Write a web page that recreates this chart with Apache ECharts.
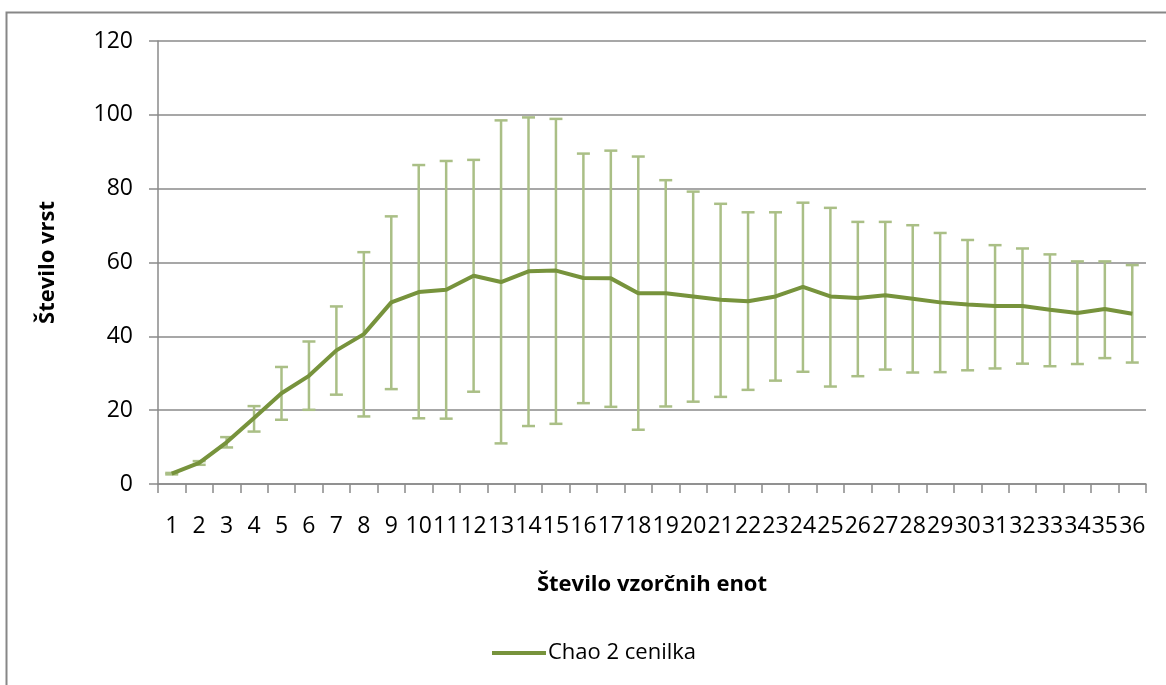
<!DOCTYPE html>
<html>
<head>
<meta charset="utf-8">
<script src="https://cdn.jsdelivr.net/npm/echarts@6/dist/echarts.min.js"></script>
<style>
  html, body { margin: 0; padding: 0; background: #fff; }
  #chart { width: 1166px; height: 685px; }
</style>
</head>
<body>
<div id="chart"></div>
<script>
// Number of sampling units (x categories)
const categories = ['1','2','3','4','5','6','7','8','9','10','11','12','13','14','15','16','17','18',
  '19','20','21','22','23','24','25','26','27','28','29','30','31','32','33','34','35','36'];

// Chao 2 estimator: mean number of species
const chaoMean = [2.8, 5.7, 11.3, 17.9, 24.6, 29.3, 36.2, 40.6, 49.2, 52.0, 52.6, 56.4,
  54.7, 57.6, 57.8, 55.8, 55.7, 51.7, 51.7, 50.8, 49.9, 49.5, 50.8, 53.4,
  50.8, 50.4, 51.1, 50.2, 49.2, 48.6, 48.2, 48.2, 47.2, 46.3, 47.4, 46.1];

// Lower and upper ends of the error bars
const chaoLow = [2.6, 5.2, 9.9, 14.2, 17.4, 20.1, 24.2, 18.3, 25.7, 17.8, 17.7, 25.0,
  11.0, 15.7, 16.3, 21.9, 20.9, 14.7, 21.0, 22.3, 23.6, 25.5, 28.0, 30.4,
  26.4, 29.2, 31.0, 30.2, 30.3, 30.8, 31.3, 32.6, 31.9, 32.5, 34.1, 32.9];
const chaoHigh = [3.0, 6.2, 12.7, 21.1, 31.7, 38.6, 48.1, 62.8, 72.5, 86.4, 87.5, 87.8,
  98.5, 99.3, 98.9, 89.5, 90.3, 88.7, 82.3, 79.2, 75.9, 73.6, 73.6, 76.2,
  74.8, 71.0, 71.0, 70.1, 68.0, 66.1, 64.7, 63.8, 62.2, 60.3, 60.3, 59.3];

// Y-axis ticks
const yTicks = { min: 0, max: 120, interval: 20 };

const seriesName = 'Chao 2 cenilka';
const font = '"Open Sans", "Noto Sans", sans-serif';
const lineColor = '#77933C';
const barColor = '#AABF86';
const gridColor = '#8A8A8A';

const errorData = categories.map((c, i) => [i, chaoLow[i], chaoHigh[i]]);

const chart = echarts.init(document.getElementById('chart'), null, { renderer: 'canvas' });

chart.setOption({
  animation: false,
  backgroundColor: '#fff',
  textStyle: { fontFamily: font },
  graphic: [{
    type: 'rect',
    shape: { x: 6.5, y: 12.5, width: 1200, height: 700 },
    style: { fill: 'none', stroke: '#878787', lineWidth: 2 },
    silent: true, z: -10
  }],
  grid: { left: 158, top: 41, width: 988, height: 443, containLabel: false },
  legend: {
    data: [seriesName],
    left: 487, top: 637,
    icon: 'rect', itemWidth: 54, itemHeight: 4, itemGap: 4,
    textStyle: { fontFamily: font, fontSize: 22, color: '#000', padding: [0, 0, 0, -3] }
  },
  xAxis: {
    type: 'category',
    data: categories,
    boundaryGap: true,
    name: 'Število vzorčnih enot',
    nameLocation: 'middle',
    nameGap: 90,
    nameTextStyle: { fontFamily: font, fontSize: 22, fontWeight: 'bold', color: '#000' },
    axisLine: { show: true, lineStyle: { color: gridColor, width: 1.5 } },
    axisTick: { show: true, length: 9, interval: 0, lineStyle: { color: gridColor, width: 1.5 } },
    axisLabel: { interval: 0, margin: 31, fontSize: 23, color: '#000', fontFamily: font },
    splitLine: { show: false }
  },
  yAxis: {
    type: 'value',
    min: yTicks.min, max: yTicks.max, interval: yTicks.interval,
    name: 'Število vrst',
    nameLocation: 'middle',
    nameGap: 99,
    nameRotate: 90,
    nameTextStyle: { fontFamily: font, fontSize: 22, fontWeight: 'bold', color: '#000' },
    axisLine: { show: true, lineStyle: { color: gridColor, width: 1.5 } },
    axisTick: { show: true, length: 9, lineStyle: { color: gridColor, width: 1.5 } },
    axisLabel: { margin: 25, fontSize: 23, color: '#000', fontFamily: font },
    splitLine: { show: true, lineStyle: { color: gridColor, width: 1.5 } }
  },
  series: [
    {
      name: 'error',
      type: 'custom',
      data: errorData,
      z: 2,
      silent: true,
      renderItem: function (params, api) {
        const x = api.value(0);
        const lo = api.coord([x, api.value(1)]);
        const hi = api.coord([x, api.value(2)]);
        const hw = 6.5;
        const style = { stroke: barColor, lineWidth: 2.5, fill: 'none' };
        return {
          type: 'group',
          children: [
            { type: 'line', shape: { x1: lo[0], y1: lo[1], x2: hi[0], y2: hi[1] }, style: style },
            { type: 'line', shape: { x1: lo[0] - hw, y1: lo[1], x2: lo[0] + hw, y2: lo[1] }, style: style },
            { type: 'line', shape: { x1: hi[0] - hw, y1: hi[1], x2: hi[0] + hw, y2: hi[1] }, style: style }
          ]
        };
      }
    },
    {
      name: seriesName,
      type: 'line',
      data: chaoMean,
      z: 3,
      showSymbol: false,
      symbol: 'none',
      itemStyle: { color: lineColor },
      lineStyle: { color: lineColor, width: 4 }
    }
  ]
});
</script>
</body>
</html>
